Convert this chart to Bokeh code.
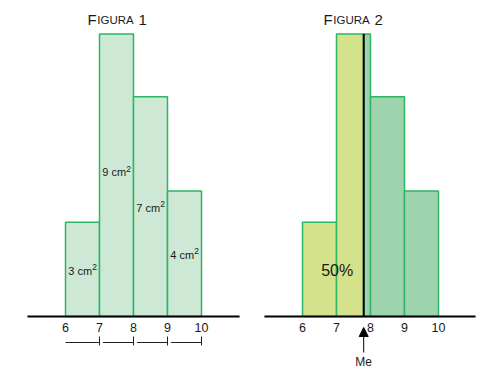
from bokeh.plotting import figure
from bokeh.layouts import row
from bokeh.models import Arrow, NormalHead, ColumnDataSource
from bokeh.core.properties import value
from bokeh.embed import file_html
from bokeh.resources import INLINE

# ---- data ----
edges = [6, 7, 8, 9, 10]
areas = [3, 9, 7, 4]
area_texts = ["3 cm", "9 cm", "7 cm", "4 cm"]
area_sup = ["2", "2", "2", "2"]
label_heights = [1.46, 4.59, 3.47, 1.97]
tick_labels = ["6", "7", "8", "9", "10"]
median = 7.8
median_label = "Me"
pct_label = "50%"
titles = ["Figura 1", "Figura 2"]

FONT = value("Liberation Sans")
PX_X = 34.0   # pixels per x unit
PX_Y = 31.4   # pixels per y unit
H = 372
OX = 1   # page offset of figure origin (observed)
OY = 0

lefts = edges[:-1]
rights = edges[1:]
heights = [a / (r - l) for a, l, r in zip(areas, lefts, rights)]

LINE_GREEN = "#2db563"
FILL1 = "#cde8d5"
YELLOW = "#d4e28b"
GREEN2 = "#9dd4ae"
TXT = "#1a1a1a"


def make_fig(width, x_origin, six_px):
    x0 = 6 - (six_px - x_origin) / PX_X
    y_top = (316 - OY) / PX_Y
    y_bot = -(H + OY - 316) / PX_Y
    p = figure(width=width, height=H, x_range=(x0, x0 + width / PX_X),
               y_range=(y_bot, y_top), output_backend="svg",
               toolbar_location=None, min_border=0,
               x_axis_location=None, y_axis_location=None)
    p.grid.visible = False
    p.outline_line_color = None
    p.background_fill_color = "white"
    p.border_fill_color = "white"
    return p


def small_caps_title(p, text, x_start, y_base):
    big, small = 15, 11.5
    first = text[0].upper()
    rest, num = text[1:].split(" ")
    w_first = 0.611 * big / PX_X
    w_rest = (0.278 + 0.778 + 0.722 + 0.722 + 0.667) * small / PX_X
    w_space = 0.278 * big / PX_X
    p.text(x=[x_start], y=[y_base], text=[first], text_font=FONT,
           text_font_size=f"{big}px", text_baseline="alphabetic",
           text_align="left", text_color=TXT)
    p.text(x=[x_start + w_first + 0.02], y=[y_base], text=[rest.upper()],
           text_font=FONT, text_font_size=f"{small}px",
           text_baseline="alphabetic", text_align="left", text_color=TXT)
    p.text(x=[x_start + w_first + w_rest + w_space + 0.04], y=[y_base],
           text=[num], text_font=FONT, text_font_size=f"{big}px",
           text_baseline="alphabetic", text_align="left", text_color=TXT)


label_y = -11 / PX_Y

# ---------- Figure 1 ----------
p1 = make_fig(245, OX, 66)
p1.quad(left=lefts, right=rights, bottom=0, top=heights,
        fill_color=FILL1, line_color=LINE_GREEN, line_width=1.5)
p1.segment(x0=[4.88], y0=[0], x1=[11.12], y1=[0], line_color="black", line_width=2)
centers = [(l + r) / 2 for l, r in zip(lefts, rights)]
main_w = (0.556 + 0.278 + 0.5 + 0.833) * 11 / PX_X
sup_w = 0.556 * 8.5 / PX_X
starts = [c - (main_w + sup_w) / 2 for c in centers]
p1.text(x=starts, y=label_heights, text=area_texts, text_font=FONT,
        text_font_size="11px", text_align="left", text_baseline="middle",
        text_color=TXT)
p1.text(x=[s + main_w + 0.005 for s in starts],
        y=[h + 3.5 / PX_Y for h in label_heights], text=area_sup, text_font=FONT,
        text_font_size="8.5px", text_align="left", text_baseline="middle",
        text_color=TXT)
p1.text(x=edges, y=[label_y] * len(edges), text=tick_labels, text_font=FONT,
        text_font_size="12.5px", text_align="center", text_baseline="middle",
        text_color=TXT)
seg_y = -26 / PX_Y
seg_start = [l + (0 if i == 0 else 0.1) for i, l in enumerate(lefts)]
p1.segment(x0=seg_start, y0=[seg_y] * 4, x1=rights, y1=[seg_y] * 4,
           line_color="#222222", line_width=1)
p1.segment(x0=rights, y0=[-20 / PX_Y] * 4, x1=rights, y1=[-29 / PX_Y] * 4,
           line_color="#222222", line_width=1)
small_caps_title(p1, titles[0], 6 + (88 - 66) / PX_X, 297 / PX_Y)

# ---------- Figure 2 ----------
p2 = make_fig(234, OX + 245, 303)
fill2 = []
l2, r2, t2 = [], [], []
for l, r, h in zip(lefts, rights, heights):
    if r <= median:
        l2.append(l); r2.append(r); t2.append(h); fill2.append(YELLOW)
    elif l < median < r:
        l2 += [l, median]; r2 += [median, r]; t2 += [h, h]; fill2 += [YELLOW, GREEN2]
    else:
        l2.append(l); r2.append(r); t2.append(h); fill2.append(GREEN2)
src2 = ColumnDataSource(dict(left=l2, right=r2, top=t2, fill=fill2))
p2.quad(left="left", right="right", bottom=0, top="top", fill_color="fill",
        line_color=LINE_GREEN, line_width=1.5, source=src2)
max_h = max(heights)
p2.segment(x0=[median], y0=[0], x1=[median], y1=[max_h], line_color="black",
           line_width=2)
p2.segment(x0=[4.88], y0=[0], x1=[11.09], y1=[0], line_color="black", line_width=2)
p2.text(x=edges, y=[label_y] * len(edges), text=tick_labels, text_font=FONT,
        text_font_size="12.5px", text_align="center", text_baseline="middle",
        text_color=TXT)
p2.text(x=[7.02], y=[1.46], text=[pct_label], text_font=FONT,
        text_font_size="16px", text_align="center", text_baseline="middle",
        text_color=TXT)
p2.add_layout(Arrow(end=NormalHead(size=9, fill_color="black", line_color="black"),
                    x_start=median, y_start=-36 / PX_Y, x_end=median,
                    y_end=-11 / PX_Y, line_color="black", line_width=1))
p2.text(x=[median], y=[-45 / PX_Y], text=[median_label], text_font=FONT,
        text_font_size="12px", text_align="center", text_baseline="middle",
        text_color=TXT)
small_caps_title(p2, titles[1], 6 + (324 - 303) / PX_X, 297 / PX_Y)

layout = row(p1, p2)
open("out.html", "w").write(file_html(layout, INLINE))
